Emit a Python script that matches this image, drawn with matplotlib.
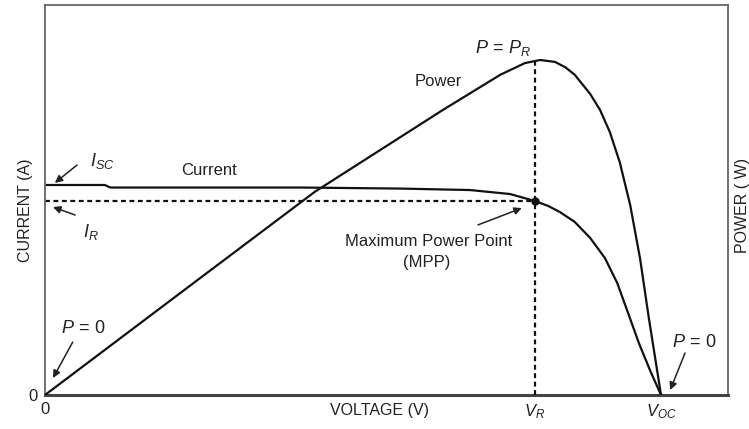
import matplotlib
matplotlib.use("Agg")
import matplotlib.pyplot as plt

# =============================
# Data (voltage normalised so V_OC = 1)
# =============================

V_R = 0.795
V_OC = 1.0
I_SC = 1.0
I_R = 0.924
P_R = 0.859

# current curve
cur_v = [0.0, 0.097, 0.106, 0.414, 0.576, 0.690, 0.755, 0.795, 0.817,
         0.836, 0.860, 0.885, 0.909, 0.929, 0.946, 0.964, 0.982, 1.0]
cur_i = [1.0, 1.0, 0.988, 0.988, 0.983, 0.976, 0.957, 0.924, 0.900,
         0.871, 0.824, 0.748, 0.652, 0.533, 0.395, 0.248, 0.119, 0.0]

# power curve
pow_v = [0.0, 0.252, 0.438, 0.646, 0.739, 0.779, 0.804, 0.828, 0.845,
         0.860, 0.885, 0.901, 0.917, 0.933, 0.950, 0.966, 0.980, 0.991, 1.0]
pow_p = [0.0, 0.300, 0.521, 0.731, 0.821, 0.851, 0.859, 0.854, 0.840,
         0.821, 0.772, 0.731, 0.674, 0.597, 0.487, 0.350, 0.200, 0.090, 0.0]

x_ticks = [0, V_R, V_OC]
x_tick_labels = ["0", "$V_R$", "$V_{OC}$"]

# =============================
# Style
# =============================

plt.rcParams["font.family"] = ["Liberation Sans", "DejaVu Sans"]
plt.rcParams["mathtext.fontset"] = "custom"
plt.rcParams["mathtext.rm"] = "Liberation Sans"
plt.rcParams["mathtext.it"] = "Liberation Sans:italic"

TXT = "#222222"
LINE = "#111111"

fig = plt.figure(figsize=(7.49, 4.29), dpi=100)
ax = fig.add_axes([45 / 749, 1 - 395 / 429, 683 / 749, 390 / 429])
ax2 = ax.twinx()

ax.set_xlim(0, 683 / 616)
ax.set_ylim(0, 390 / 210)
ax2.set_ylim(0, 1.0)

# =============================
# Curves
# =============================

ax.plot(cur_v, cur_i, color=LINE, lw=1.6, solid_joinstyle="round")
ax2.plot(pow_v, pow_p, color=LINE, lw=1.6, solid_joinstyle="round")

# dashed guides to the MPP
ax.plot([0, V_R], [I_R, I_R], color=LINE, lw=1.6, ls=(0, (2.2, 1.6)))
ax2.plot([V_R, V_R], [0, P_R], color=LINE, lw=1.6, ls=(0, (2.2, 1.6)))
ax.plot([V_R], [I_R], "o", color=LINE, ms=5)

# =============================
# Axes
# =============================

for side in ["left", "right", "top"]:
    ax.spines[side].set_color("#666666")
    ax.spines[side].set_linewidth(1.3)
    ax2.spines[side].set_visible(False)
ax.spines["bottom"].set_color("#444444")
ax.spines["bottom"].set_linewidth(2.2)
ax2.spines["bottom"].set_visible(False)

ax.set_xticks(x_ticks)
ax.set_xticklabels(x_tick_labels, fontsize=12, color=TXT)
ax.set_yticks([0])
ax.set_yticklabels(["0"], fontsize=12, color=TXT)
ax.tick_params(length=0, pad=5)
ax2.set_yticks([])

ax.set_xlabel("VOLTAGE (V)", fontsize=11.5, color=TXT)
ax.xaxis.set_label_coords(0.49, -0.02)
ax.set_ylabel("CURRENT (A)", fontsize=11.5, color=TXT)
ax.yaxis.set_label_coords(-0.018, 0.474)
ax2.set_ylabel("POWER ( W)", fontsize=11.5, color=TXT)
ax2.yaxis.set_label_coords(1.010, 0.485)

# =============================
# Labels and arrows
# =============================

arrow = dict(arrowstyle="-|>", color=TXT, lw=1.1, mutation_scale=11,
             shrinkA=0, shrinkB=0)

ax.text(0.073, 1.114, "$I_{SC}$", fontsize=13, color=TXT, ha="left", va="center")
ax.annotate("", xy=(0.016, 1.010), xytext=(0.052, 1.095), arrowprops=arrow)

ax.text(0.062, 0.776, "$I_R$", fontsize=13, color=TXT, ha="left", va="center")
ax.annotate("", xy=(0.013, 0.895), xytext=(0.049, 0.857), arrowprops=arrow)

ax.text(0.266, 1.071, "Current", fontsize=12, color=TXT, ha="center", va="center")
ax.text(0.638, 1.495, "Power", fontsize=12, color=TXT, ha="center", va="center")
ax.text(0.744, 1.652, "$P\\,=\\,P_R$", fontsize=13, color=TXT, ha="center", va="center")

ax.text(0.622, 0.733, "Maximum Power Point", fontsize=12, color=TXT,
        ha="center", va="center")
ax.text(0.619, 0.633, "(MPP)", fontsize=12, color=TXT, ha="center", va="center")
ax.annotate("", xy=(0.774, 0.890), xytext=(0.703, 0.810), arrowprops=arrow)

ax.text(0.062, 0.319, "$P\\,=\\,0$", fontsize=13, color=TXT, ha="center", va="center")
ax.annotate("", xy=(0.013, 0.081), xytext=(0.045, 0.252), arrowprops=arrow)

ax.text(1.054, 0.248, "$P\\,=\\,0$", fontsize=13, color=TXT, ha="center", va="center")
ax.annotate("", xy=(1.015, 0.024), xytext=(1.039, 0.200), arrowprops=arrow)

fig.savefig("out.png", dpi=100)
